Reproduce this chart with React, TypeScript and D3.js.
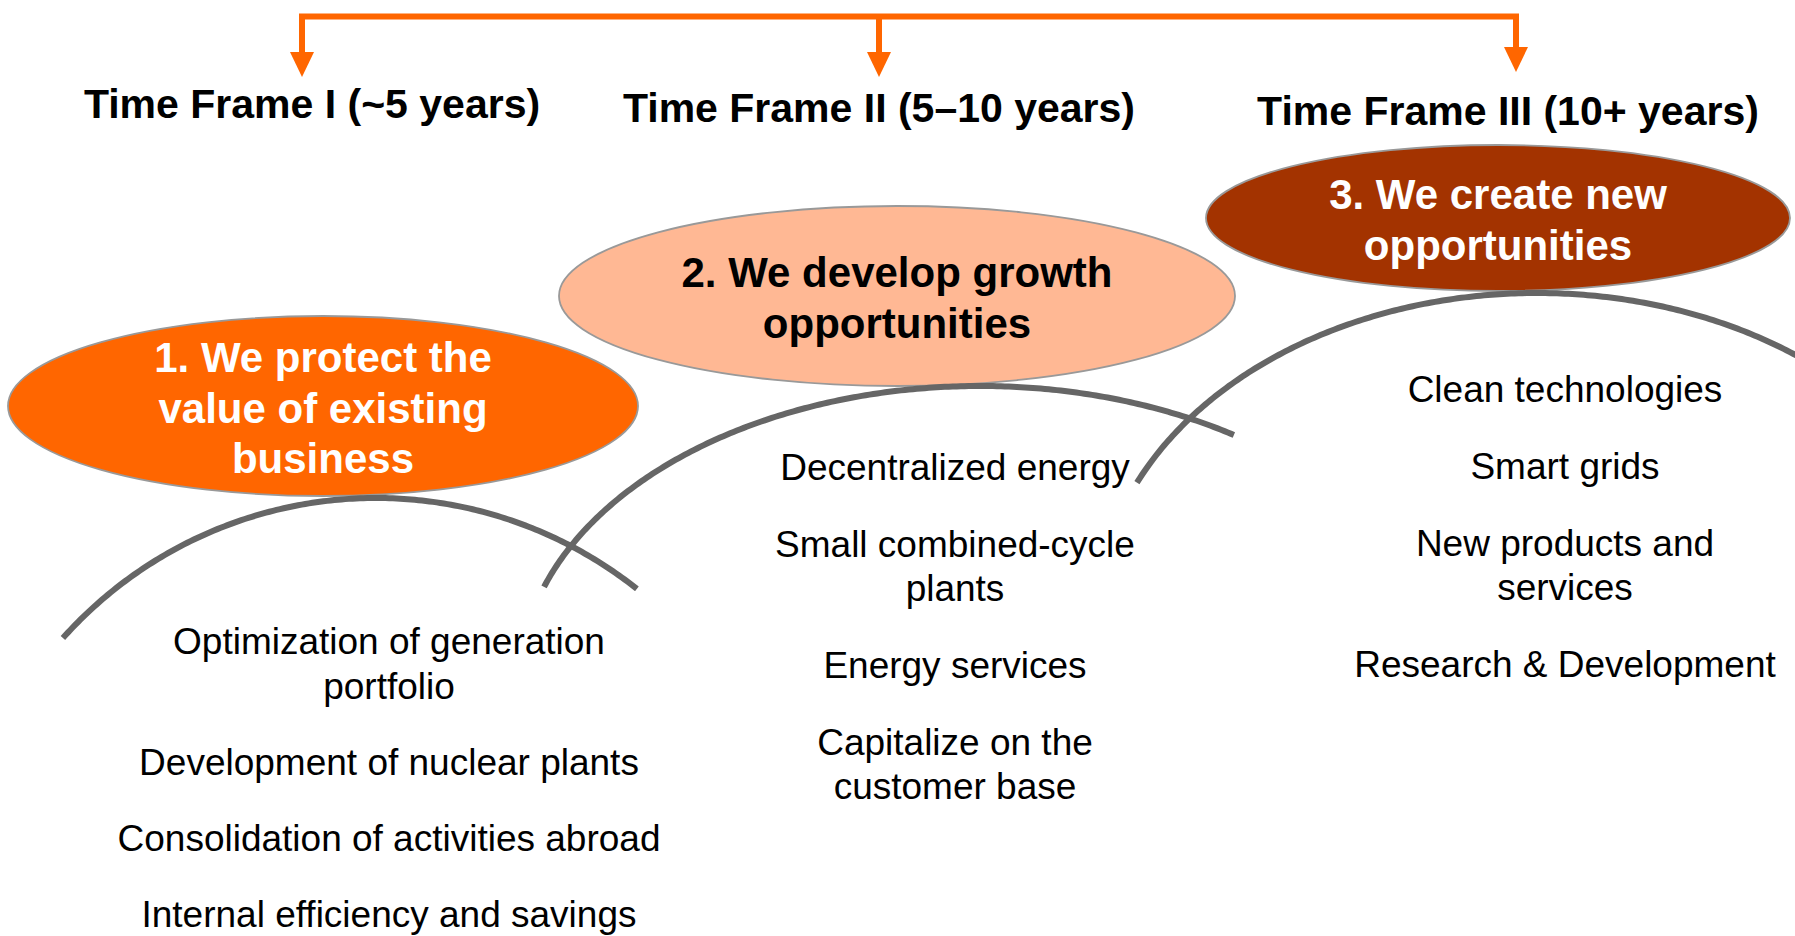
import React, { useEffect, useRef } from 'react'
import * as d3 from 'd3'

const frames = ['Time Frame I (~5 years)', 'Time Frame II (5–10 years)', 'Time Frame III (10+ years)']
const goals = [
  ['1. We protect the', 'value of existing', 'business'],
  ['2. We develop growth', 'opportunities'],
  ['3. We create new', 'opportunities'],
]
const protectItems = [
  ['Optimization of generation', 'portfolio'],
  ['Development of nuclear plants'],
  ['Consolidation of activities abroad'],
  ['Internal efficiency and savings'],
]
const developItems = [
  ['Decentralized energy'],
  ['Small combined-cycle', 'plants'],
  ['Energy services'],
  ['Capitalize on the', 'customer base'],
]
const createItems = [
  ['Clean technologies'],
  ['Smart grids'],
  ['New products and', 'services'],
  ['Research & Development'],
]
const itemLists = [protectItems, developItems, createItems]

const W = 1795
const H = 936
const FONT = '"Liberation Sans", Arial, Helvetica, sans-serif'
const ORANGE = '#FF6600'
const goalFill = ['#FF6600', '#FFB894', '#A33300']
const goalInk = ['#ffffff', '#000000', '#ffffff']

// placement of each stage
const stages = [
  { arrowX: 302, tipY: 77, titleX: 312, titleY: 118, cx: 323, cy: 406, rx: 315, ry: 90,
    arc: { cx: 376, cy: 918, rx: 420, ry: 420, a0: 138.2, a1: 51.6 }, colX: 389, colY: 654, lineH: 44.5, gap: 76.2 },
  { arrowX: 879, tipY: 77, titleX: 879, titleY: 122, cx: 897, cy: 296, rx: 338, ry: 90,
    arc: { cx: 980, cy: 681, rx: 460, ry: 295, a0: 161.4, a1: 56.5 }, colX: 955, colY: 480, lineH: 44.5, gap: 76.8 },
  { arrowX: 1516, tipY: 72, titleX: 1508, titleY: 125, cx: 1498, cy: 218, rx: 292, ry: 73,
    arc: { cx: 1537, cy: 618, rx: 440, ry: 325, a0: 155.4, a1: 40 }, colX: 1565, colY: 402, lineH: 44.5, gap: 76.8 },
]

const GOAL_LINE_H = 50.5

export default function App() {
  const svgRef = useRef<SVGSVGElement>(null)

  useEffect(() => {
    const svg = d3.select(svgRef.current)
    svg.selectAll('*').remove()

    // orange bracket with three arrows
    const xs = stages.map(s => s.arrowX)
    const topY = 16.5
    const headH = 25
    const bracket = d3.path()
    bracket.moveTo(xs[0], stages[0].tipY - headH + 1)
    bracket.lineTo(xs[0], topY)
    bracket.lineTo(xs[2], topY)
    bracket.lineTo(xs[2], stages[2].tipY - headH + 1)
    bracket.moveTo(xs[1], topY)
    bracket.lineTo(xs[1], stages[1].tipY - headH + 1)
    svg.append('path')
      .attr('d', bracket.toString())
      .attr('fill', 'none')
      .attr('stroke', ORANGE)
      .attr('stroke-width', 6)
      .attr('stroke-linejoin', 'miter')

    svg.append('g')
      .selectAll('path')
      .data(stages)
      .join('path')
      .attr('d', s => `M${s.arrowX - 12},${s.tipY - headH} L${s.arrowX + 12},${s.tipY - headH} L${s.arrowX},${s.tipY} Z`)
      .attr('fill', ORANGE)

    // time frame titles
    svg.append('g')
      .selectAll('text')
      .data(frames)
      .join('text')
      .attr('x', (d, i) => stages[i].titleX)
      .attr('y', (d, i) => stages[i].titleY)
      .attr('text-anchor', 'middle')
      .attr('font-family', FONT)
      .attr('font-weight', 'bold')
      .attr('font-size', 41)
      .attr('fill', '#000')
      .text(d => d)

    // goal ellipses
    const goalG = svg.append('g')
      .selectAll('g')
      .data(goals)
      .join('g')

    goalG.append('ellipse')
      .attr('cx', (d, i) => stages[i].cx)
      .attr('cy', (d, i) => stages[i].cy)
      .attr('rx', (d, i) => stages[i].rx)
      .attr('ry', (d, i) => stages[i].ry)
      .attr('fill', (d, i) => goalFill[i])
      .attr('stroke', '#999')
      .attr('stroke-width', 1.8)

    goalG.each(function (lines, i) {
      const s = stages[i]
      d3.select(this)
        .selectAll('text')
        .data(lines)
        .join('text')
        .attr('x', s.cx)
        .attr('y', (t, j) => s.cy + 16.5 + (j - (lines.length - 1) / 2) * GOAL_LINE_H)
        .attr('text-anchor', 'middle')
        .attr('font-family', FONT)
        .attr('font-weight', 'bold')
        .attr('font-size', 42)
        .attr('fill', goalInk[i])
        .text(t => t)
    })

    // gray elliptical arcs under each goal
    const arcLine = d3.line<[number, number]>()
    svg.append('g')
      .selectAll('path')
      .data(stages)
      .join('path')
      .attr('d', s => {
        const a = s.arc
        const pts = d3.range(a.a0, a.a1 - 0.01, -0.5).concat([a.a1])
          .map(deg => {
            const t = deg * Math.PI / 180
            return [a.cx + a.rx * Math.cos(t), a.cy - a.ry * Math.sin(t)] as [number, number]
          })
        return arcLine(pts)
      })
      .attr('fill', 'none')
      .attr('stroke', '#666666')
      .attr('stroke-width', 6)

    // item lists under each arc
    itemLists.forEach((items, i) => {
      const s = stages[i]
      const rows: { text: string, y: number }[] = []
      let y = s.colY
      items.forEach(item => {
        item.forEach((line, j) => {
          rows.push({ text: line, y: y + j * s.lineH })
        })
        y += (item.length - 1) * s.lineH + s.gap
      })
      svg.append('g')
        .selectAll('text')
        .data(rows)
        .join('text')
        .attr('x', s.colX)
        .attr('y', r => r.y)
        .attr('text-anchor', 'middle')
        .attr('font-family', FONT)
        .attr('font-size', 37)
        .attr('fill', '#000')
        .text(r => r.text)
    })
  })

  return (
    <svg
      ref={svgRef}
      width={W}
      height={H}
      style={{ position: 'absolute', left: 0, top: 0, display: 'block', background: '#fff' }}
    />
  )
}
